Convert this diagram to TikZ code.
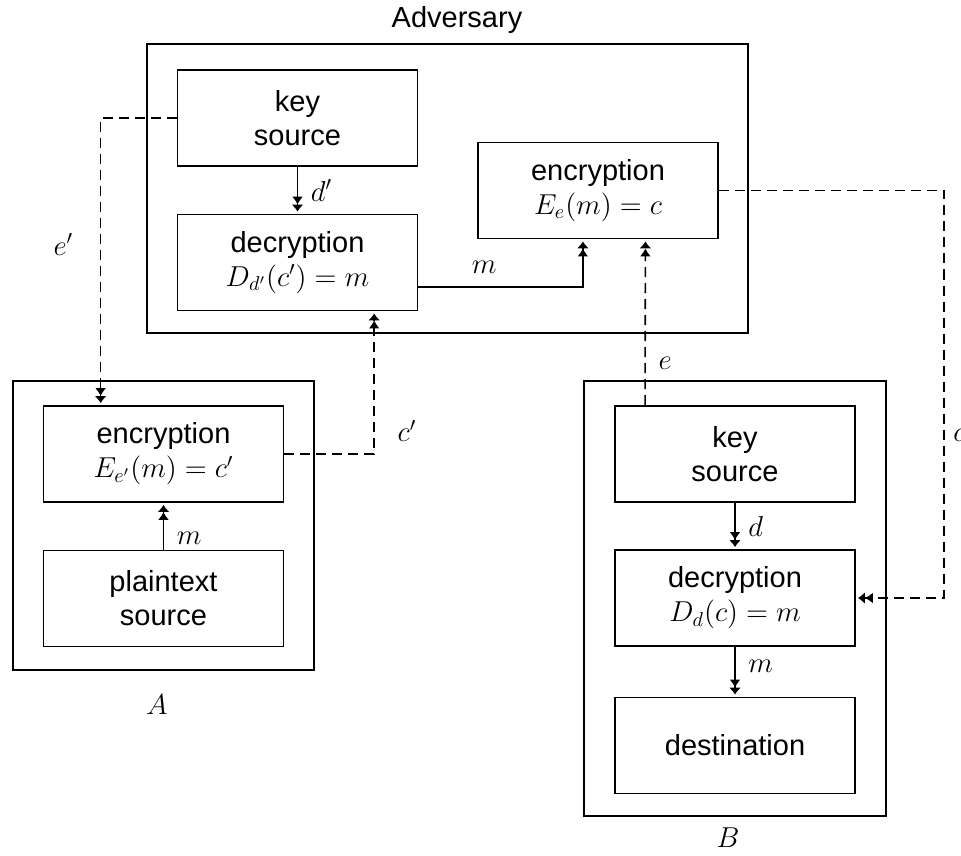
\documentclass[tikz,border=0pt]{standalone}
\usepackage{fontspec}
\setmainfont{Liberation Sans}
\usetikzlibrary{arrows.meta, calc}

\begin{document}
\begin{tikzpicture}[x=0.5pt, y=-0.5pt,
    every node/.style={font=\fontsize{14.5}{17}\selectfont},
    frame/.style={draw, line width=0.9pt, inner sep=0pt},
    blockbox/.style={draw, line width=0.9pt, minimum width=120pt, minimum height=48pt, align=center, inner sep=0pt},
    arr/.style={line width=0.8pt, -{Latex[length=4pt,width=5.5pt]Latex[length=3.5pt,width=6pt]}, shorten >=1pt},
    dasharr/.style={arr, dash pattern=on 5pt off 3pt}]
  \useasboundingbox (0,0) rectangle (961,855);

  % frames of the three parties
  \node[frame, minimum width=300.5pt, minimum height=144.5pt] (advframe) at (447.5,188.5) {};
  \node[frame, minimum width=150.5pt, minimum height=144.5pt] (aframe) at (163.5,525.5) {};
  \node[frame, minimum width=151pt, minimum height=217.5pt] (bframe) at (735,598.5) {};
  \node (advlabel) at (457,20) {Adversary};
  \node (alabel) at (157,705) {$A$};
  \node (blabel) at (728,838) {$B$};

  % adversary
  \node[blockbox] (advkey) at (297.5,118) {key\\source};
  \node[blockbox] (advdec) at (297.5,262.5) {decryption\\$D_{d'}(c')=m$};
  \node[blockbox] (advenc) at (598,190.5) {encryption\\$E_{e}(m)=c$};

  % A
  \node[blockbox] (aenc) at (163.5,454) {encryption\\$E_{e'}(m)=c'$};
  \node[blockbox] (aplain) at (163.5,598.5) {plaintext\\source};

  % B
  \node[blockbox] (bkey) at (735,454) {key\\source};
  \node[blockbox] (bdec) at (735,598) {decryption\\$D_{d}(c)=m$};
  \node[blockbox] (bdest) at (735,745.5) {destination};

  % solid arrows
  \draw[arr] (advkey.south) -- node[right=3pt] {$d'$} (advdec.north);
  \draw[arr] ($(advdec.south east)!0.25!(advdec.north east)$) -| node[pos=0.2, above=3pt] {$m$}
    ($(advenc.south west)!0.4375!(advenc.south east)$);
  \draw[arr] (aplain.north) -- node[pos=0.25, right=3pt] {$m$} (aenc.south);
  \draw[arr] (bkey.south) -- node[right=3pt] {$d$} (bdec.north);
  \draw[arr] (bdec.south) -- node[pos=0.4, right=3pt] {$m$} (bdest.north);

  % dashed arrows
  \draw[dasharr] (advkey.west) -| node[pos=0.72, left=10pt] {$e'$}
    ($(aenc.north west)!0.24!(aenc.north east)$);
  \draw[dasharr] (aenc.east) -| node[pos=0.58, right=8pt] {$c'$}
    ($(advdec.south west)!0.817!(advdec.south east)$);
  \draw[dasharr] ($(bkey.north west)!0.128!(bkey.north east)$) -- node[pos=0.25, right=3pt] {$e$}
    ($(advenc.south west)!0.696!(advenc.south east)$);
  \draw[dasharr] (advenc.east) -- ++(225,0) |- node[pos=0.3, right=1pt] {$c$} (bdec.east);
\end{tikzpicture}
\end{document}
